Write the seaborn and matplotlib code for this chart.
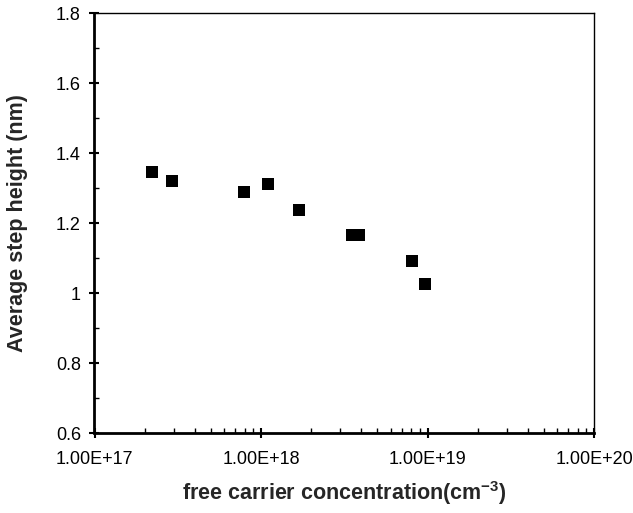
import matplotlib
matplotlib.use("Agg")
import matplotlib.pyplot as plt
import seaborn as sns
import pandas as pd
from matplotlib.ticker import FixedLocator, FixedFormatter, LogLocator, MultipleLocator, NullFormatter

carrier_conc = [2.2e17, 2.92e17, 7.9e17, 1.10e18, 1.70e18, 3.52e18, 3.88e18, 8.07e18, 9.6e18]
step_height = [1.346, 1.321, 1.289, 1.311, 1.237, 1.167, 1.167, 1.091, 1.026]
x_ticks = [1e17, 1e18, 1e19, 1e20]
x_tick_labels = ["1.00E+17", "1.00E+18", "1.00E+19", "1.00E+20"]
y_ticks = [0.6, 0.8, 1.0, 1.2, 1.4, 1.6, 1.8]
y_tick_labels = ["0.6", "0.8", "1", "1.2", "1.4", "1.6", "1.8"]

sns.set_style("white")
plt.rcParams['font.family'] = ['Liberation Sans', 'DejaVu Sans']
plt.rcParams['mathtext.fontset'] = 'custom'
plt.rcParams['mathtext.bf'] = 'Liberation Sans:bold'
plt.rcParams['mathtext.rm'] = 'Liberation Sans'

df = pd.DataFrame({"conc": carrier_conc, "h": step_height})

fig = plt.figure(figsize=(6.33, 5.13), dpi=100)
ax = fig.add_axes([94.5/633, 80/513, (594-94.5)/633, (433-13)/513])
sns.scatterplot(data=df, x="conc", y="h", marker="s", s=80, color="black",
                edgecolor="black", linewidth=0, ax=ax, legend=False)
ax.set_xscale("log")
ax.set_xlim(1e17, 1e20)
ax.set_ylim(0.6, 1.8)

ax.xaxis.set_major_locator(FixedLocator(x_ticks))
ax.xaxis.set_major_formatter(FixedFormatter(x_tick_labels))
ax.xaxis.set_minor_locator(LogLocator(base=10, subs=range(2, 10)))
ax.xaxis.set_minor_formatter(NullFormatter())
ax.yaxis.set_major_locator(FixedLocator(y_ticks))
ax.yaxis.set_major_formatter(FixedFormatter(y_tick_labels))
ax.yaxis.set_minor_locator(MultipleLocator(0.1))

ax.tick_params(which="major", direction="inout", length=7.5, width=1.5, labelsize=13,
               bottom=True, left=True, top=False, right=False, colors="black")
ax.tick_params(axis="x", which="major", pad=9)
ax.tick_params(axis="y", which="major", pad=6)
ax.tick_params(which="minor", direction="in", length=3.5, width=1.0,
               bottom=True, left=True, top=False, right=False, colors="black")

for side in ["left", "bottom"]:
    ax.spines[side].set_linewidth(2.0)
    ax.spines[side].set_color("black")
for side in ["top", "right"]:
    ax.spines[side].set_linewidth(1.0)
    ax.spines[side].set_color("black")
    ax.spines[side].set_visible(True)

ax.set_xlabel("free carrier concentration(cm$^{\\mathbf{-3}}$)", fontsize=15.5, fontweight="bold")
ax.set_ylabel("Average step height (nm)", fontsize=15.5, fontweight="bold")
ax.xaxis.set_label_coords(0.5, -(500 - 433) / 420, transform=ax.transAxes)
ax.xaxis.label.set_va("baseline")
ax.yaxis.set_label_coords(-(94.5 - 18) / 499.5, 0.5, transform=ax.transAxes)
ax.yaxis.label.set_va("center")

fig.savefig("out.png", dpi=100)
